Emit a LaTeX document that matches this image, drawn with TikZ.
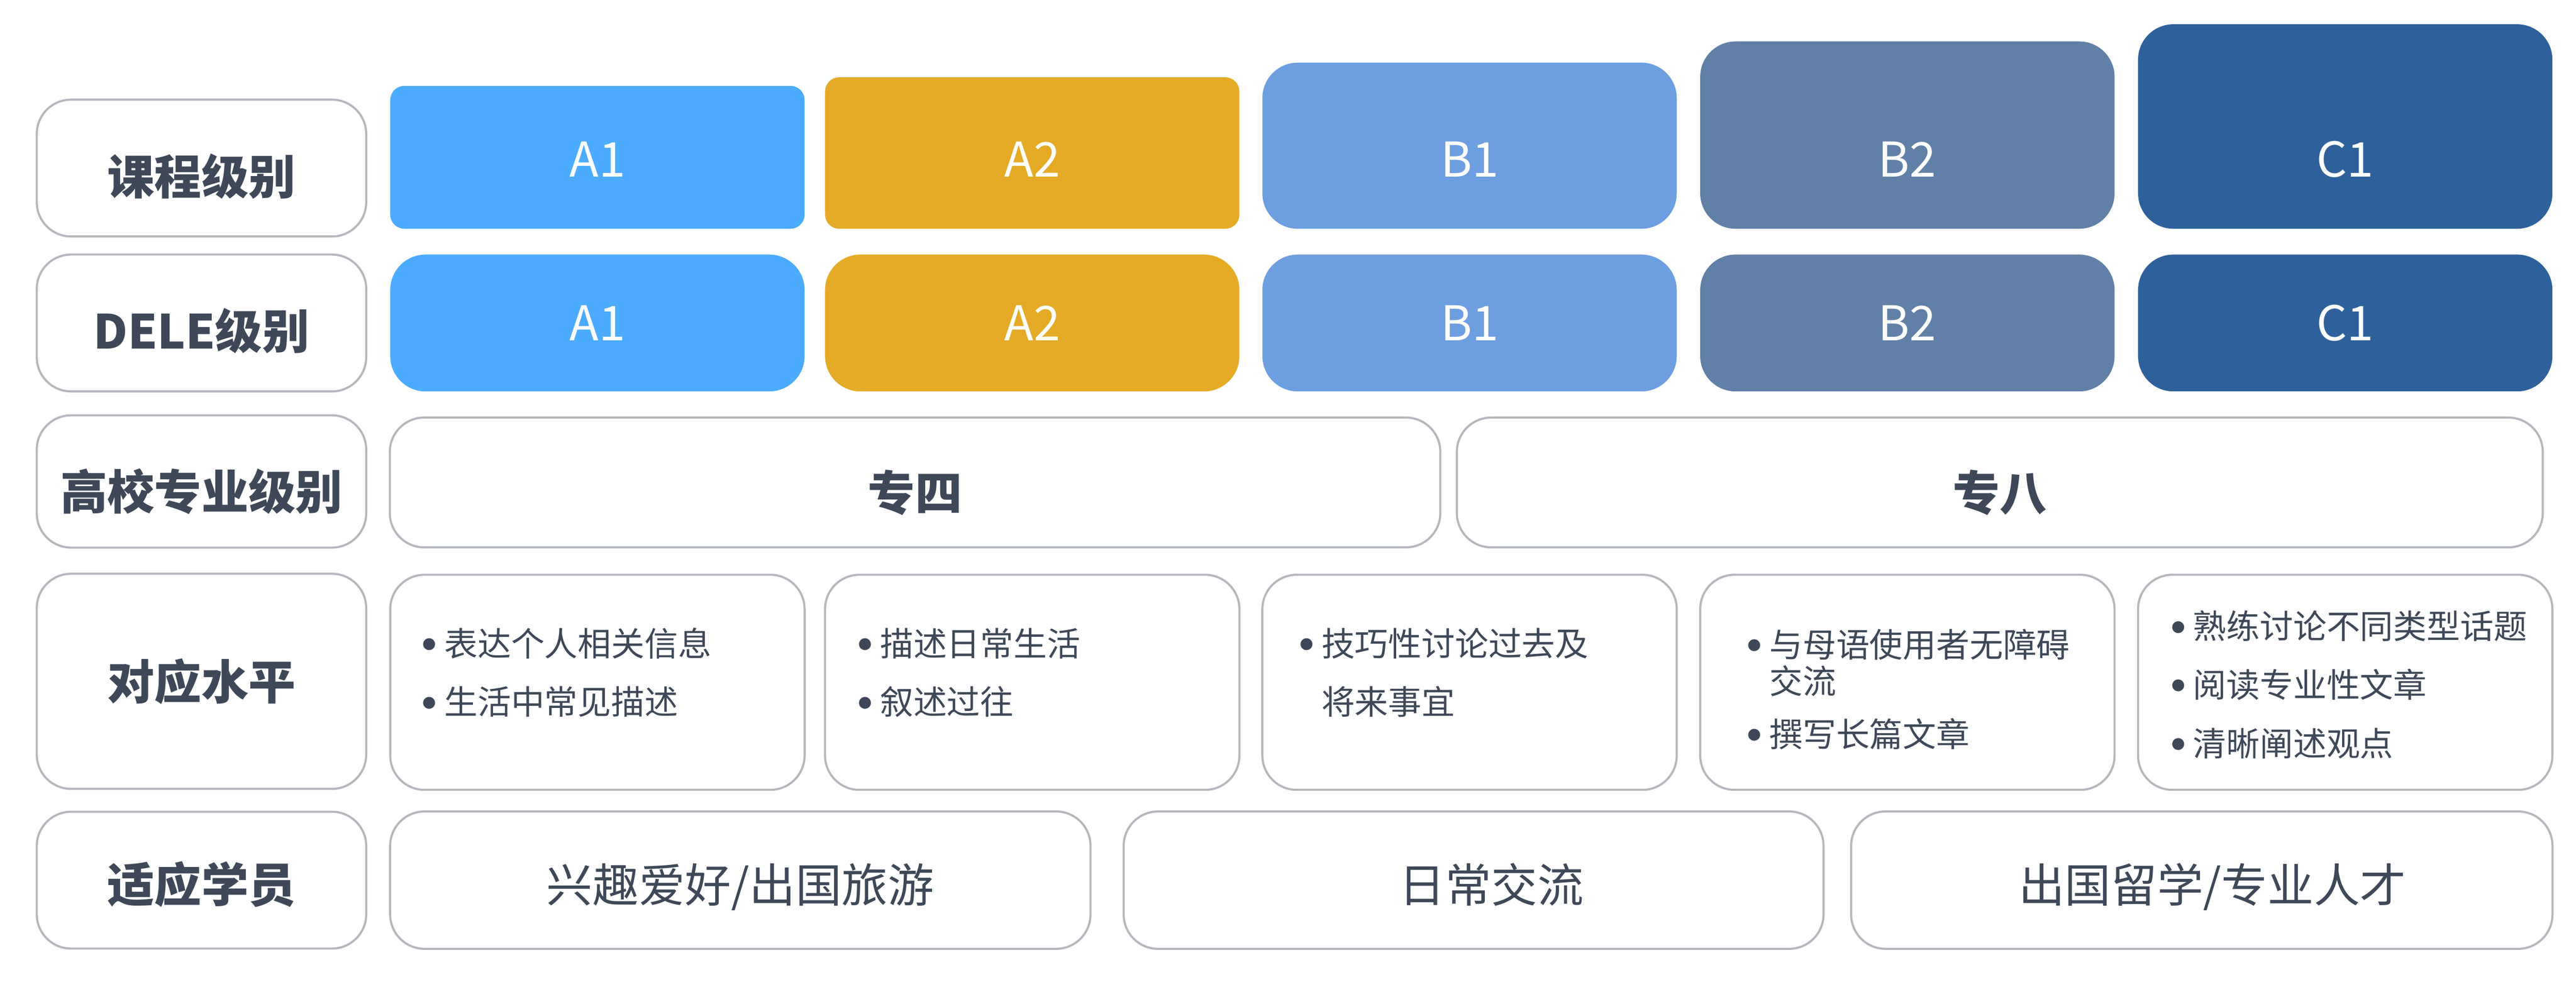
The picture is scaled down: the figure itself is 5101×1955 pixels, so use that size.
\documentclass[tikz,border=0pt]{standalone}
\usepackage{fontspec}
\usepackage{tikz}
\usetikzlibrary{shapes, calc, positioning}
\setmainfont{Noto Sans CJK SC}

\definecolor{edge}{HTML}{B4B8BE}
\definecolor{ink}{HTML}{3E4858}
\definecolor{lvA1}{HTML}{4BABFF}
\definecolor{lvA2}{HTML}{E5AB27}
\definecolor{lvB1}{HTML}{6D9EE0}
\definecolor{lvB2}{HTML}{6080A8}
\definecolor{lvC1}{HTML}{2E619C}

\newcommand{\dotmark}{\raisebox{0.12em}{$\bullet$}\hspace{4pt}}

\begin{document}
\begin{tikzpicture}[x=0.01cm, y=-0.01cm]
	\tikzstyle{frame} = [draw=edge, line width=1.2pt, rounded corners=0.68cm, inner sep=0pt, text=ink]
	\tikzstyle{head} = [frame, minimum width=6.52cm, minimum height=2.71cm, font=\fontsize{26.5}{30}\selectfont\bfseries, text height=29.4pt, text depth=0pt]
	\tikzstyle{level} = [rounded corners=0.7cm, minimum width=8.2cm, inner sep=0pt]
	\tikzstyle{tag} = [text=white, inner sep=0pt, font=\fontsize{27}{30}\selectfont]
	\tikzstyle{desc} = [frame, minimum width=8.2cm, minimum height=4.26cm]
	\tikzstyle{items} = [text=ink, inner sep=0pt, anchor=base west, align=left, font=\fontsize{18.8}{33}\selectfont]
	\tikzstyle{group} = [frame, minimum height=2.72cm, font=\fontsize{26}{30}\selectfont, text height=25pt, text depth=0pt]

	\useasboundingbox (0,0) rectangle (5101,1955);

	% row headers
	\node[head] (h1) at (399,333) {课程级别};
	\node[head] (h2) at (399,640) {DELE级别};
	\node[head, minimum height=2.62cm, text height=31.6pt] (h3) at (399,954) {高校专业级别};
	\node[head, minimum height=4.26cm, text height=20.2pt] (h4) at (399,1350) {对应水平};
	\node[head, text height=25pt] (h5) at (399,1744) {适应学员};

	% course levels
	\node[level, fill=lvA1, rounded corners=0.28cm, anchor=south, minimum height=2.83cm] (k1) at (1183,454) {};
	\node[level, fill=lvA2, rounded corners=0.28cm, anchor=south, minimum height=3.00cm] (k2) at (2044,454) {};
	\node[level, fill=lvB1, anchor=south, minimum height=3.29cm] (k3) at (2910,454) {};
	\node[level, fill=lvB2, anchor=south, minimum height=3.71cm] (k4) at (3777,454) {};
	\node[level, fill=lvC1, anchor=south, minimum height=4.05cm] (k5) at (4644,454) {};
	\node[tag] (k1t) at ($(k1.south)+(0,-138)$) {A1};
	\node[tag] (k2t) at ($(k2.south)+(0,-138)$) {A2};
	\node[tag] (k3t) at ($(k3.south)+(0,-138)$) {B1};
	\node[tag] (k4t) at ($(k4.south)+(0,-138)$) {B2};
	\node[tag] (k5t) at ($(k5.south)+(0,-138)$) {C1};

	% DELE levels
	\node[level, fill=lvA1, minimum height=2.71cm, tag] (e1) at (1183,640) {A1};
	\node[level, fill=lvA2, minimum height=2.71cm, tag] (e2) at (2044,640) {A2};
	\node[level, fill=lvB1, minimum height=2.71cm, tag] (e3) at (2910,640) {B1};
	\node[level, fill=lvB2, minimum height=2.71cm, tag] (e4) at (3777,640) {B2};
	\node[level, fill=lvC1, minimum height=2.71cm, tag] (e5) at (4644,640) {C1};

	% university levels
	\node[head, minimum width=20.79cm, minimum height=2.57cm, text height=31.6pt] (z4) at (1812,956) {专四\hspace{12pt}};
	\node[head, minimum width=21.49cm, minimum height=2.57cm, text height=31.6pt] (z8) at (3960,956) {专八\hspace{16pt}};

	% abilities
	\node[desc] (d1) at (1183,1352) {};
	\node[desc] (d2) at (2044,1352) {};
	\node[desc] (d3) at (2910,1352) {};
	\node[desc] (d4) at (3777,1352) {};
	\node[desc] (d5) at (4644,1352) {};
	\node[items] (d1t) at ($(d1.west)+(64,64)$) {\dotmark 表达个人相关信息\\ \dotmark 生活中常见描述};
	\node[items] (d2t) at ($(d2.west)+(66,64)$) {\dotmark 描述日常生活\\ \dotmark 叙述过往};
	\node[items] (d3t) at ($(d3.west)+(74,64)$) {\dotmark 技巧性讨论过去及\\ \phantom{\dotmark}将来事宜};
	\node[items] (d4t) at ($(d4.west)+(94,128)$) {\dotmark 与母语使用者无障碍\\[-12.5pt] \phantom{\dotmark}交流\\[-3pt] \dotmark 撰写长篇文章};
	\node[items] (d5t) at ($(d5.west)+(66,146)$) {\dotmark 熟练讨论不同类型话题\\ \dotmark 阅读专业性文章\\ \dotmark 清晰阐述观点};

	% learners
	\node[group, minimum width=13.86cm] (s1) at (1466,1744) {兴趣爱好/出国旅游};
	\node[group, minimum width=13.85cm] (s2) at (2918,1744) {\hspace{20pt}日常交流};
	\node[group, minimum width=13.88cm] (s3) at (4360,1744) {\hspace{12pt}出国留学/专业人才};
\end{tikzpicture}
\end{document}
